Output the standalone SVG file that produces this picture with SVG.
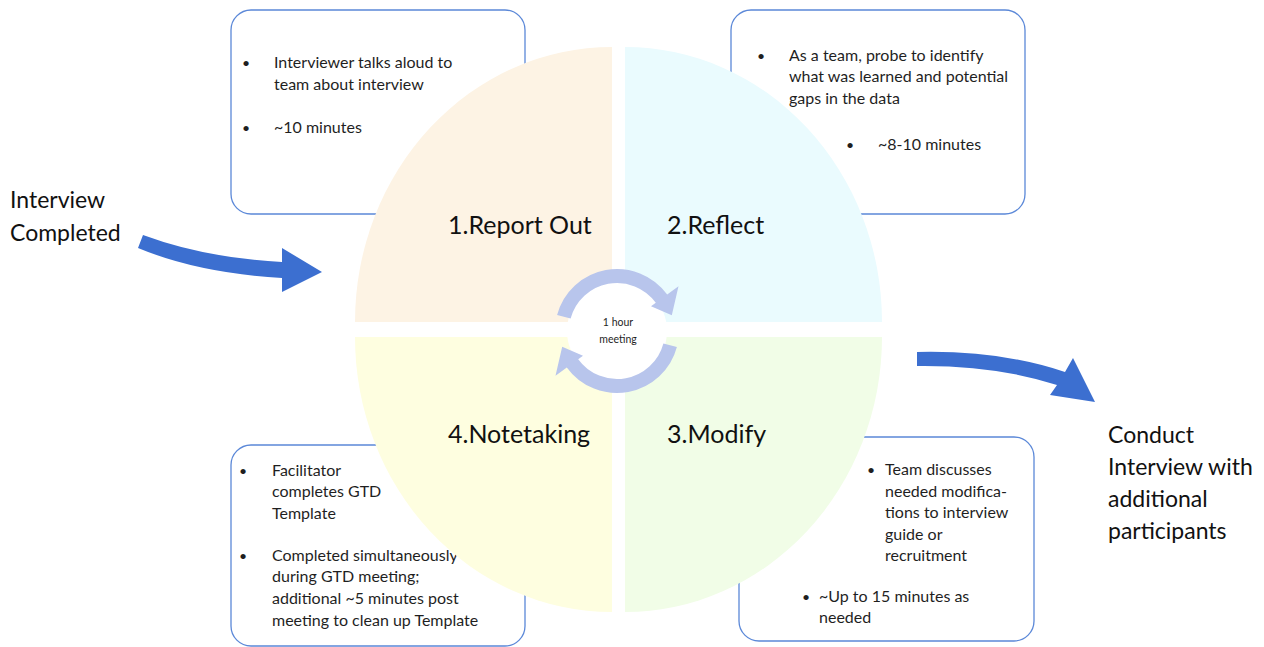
<svg xmlns="http://www.w3.org/2000/svg" width="1264" height="647" viewBox="0 0 1264 647">
  <style>
    .box { fill: #ffffff; stroke: #5b88d8; stroke-width: 1.3; }
    .txt { font-family: Lato, "Liberation Sans", sans-serif; fill: #1f1f1f; }
    .note { font-size: 16px; }
    .bullet { font-size: 14px; }
    .label { font-size: 25px; fill: #111111; }
    .side { font-size: 23px; fill: #111111; }
    .big-arrow { fill: #3c6fd0; }
    .ring-arrow { fill: #b8c5ec; }
  </style>
  <defs>
    <path id="ringArrow" d="M557.1,315 A62,62 0 0 1 667.2,294.6 L678.5,286.3 L671.8,315.3 L651,306.3 L655.8,302.8 A48,48 0 0 0 570.6,318.6 Z"/>
  </defs>

  <rect width="1264" height="647" fill="#ffffff"/>

  <!-- note boxes (drawn under the cycle) -->
  <g id="note-report-out">
    <rect class="box" x="231" y="10" width="294" height="204" rx="20"/>
    <g class="txt note">
      <text class="bullet" x="242" y="68">•</text>
      <text x="274" y="68">Interviewer talks aloud to</text>
      <text x="274" y="90">team about interview</text>
      <text class="bullet" x="242" y="133">•</text>
      <text x="274" y="133">~10 minutes</text>
    </g>
  </g>
  <g id="note-reflect">
    <rect class="box" x="731" y="10" width="294" height="204" rx="20"/>
    <g class="txt note">
      <text class="bullet" x="757" y="61">•</text>
      <text x="789" y="61">As a team, probe to identify</text>
      <text x="789" y="82">what was learned and potential</text>
      <text x="789" y="104">gaps in the data</text>
      <text class="bullet" x="846" y="150">•</text>
      <text x="878" y="150">~8-10 minutes</text>
    </g>
  </g>
  <g id="note-notetaking">
    <rect class="box" x="231" y="445" width="294" height="201" rx="20"/>
    <g class="txt note">
      <text class="bullet" x="239" y="476">•</text>
      <text x="272" y="476">Facilitator</text>
      <text x="272" y="497">completes GTD</text>
      <text x="272" y="519">Template</text>
      <text class="bullet" x="239" y="561">•</text>
      <text x="272" y="561">Completed simultaneously</text>
      <text x="272" y="582">during GTD meeting;</text>
      <text x="272" y="604">additional ~5 minutes post</text>
      <text x="272" y="626">meeting to clean up Template</text>
    </g>
  </g>
  <g id="note-modify">
    <rect class="box" x="739" y="437" width="295" height="204" rx="20"/>
    <g class="txt note">
      <text class="bullet" x="867" y="475">•</text>
      <text x="885" y="475">Team discusses</text>
      <text x="885" y="497">needed modifica-</text>
      <text x="885" y="518">tions to interview</text>
      <text x="885" y="540">guide or</text>
      <text x="885" y="561">recruitment</text>
      <text class="bullet" x="802" y="602">•</text>
      <text x="819" y="602">~Up to 15 minutes as</text>
      <text x="819" y="623">needed</text>
    </g>
  </g>

  <!-- four-part cycle -->
  <g id="step-report-out">
    <path d="M612,322 L355,322 A257,275 0 0 1 612,47 Z" fill="#fdf3e4"/>
    <text class="txt label" x="448" y="234">1.Report Out</text>
  </g>
  <g id="step-reflect">
    <path d="M625,322 L625,47 A257,275 0 0 1 882,322 Z" fill="#eafbfe"/>
    <text class="txt label" x="667" y="234">2.Reflect</text>
  </g>
  <g id="step-modify">
    <path d="M625,337 L882,337 A257,275 0 0 1 625,612 Z" fill="#f1fde7"/>
    <text class="txt label" x="667" y="443">3.Modify</text>
  </g>
  <g id="step-notetaking">
    <path d="M612,337 L612,612 A257,275 0 0 1 355,337 Z" fill="#fefee0"/>
    <text class="txt label" x="448" y="443">4.Notetaking</text>
  </g>

  <!-- hub -->
  <g id="hub">
    <circle cx="617" cy="331" r="50" fill="#ffffff"/>
    <use href="#ringArrow" class="ring-arrow"/>
    <use href="#ringArrow" class="ring-arrow" transform="rotate(180 617 331)"/>
    <text class="txt" x="618" y="326" font-size="10.5" text-anchor="middle">1 hour</text>
    <text class="txt" x="618" y="343" font-size="10.5" text-anchor="middle">meeting</text>
  </g>

  <!-- start / next step labels -->
  <g id="start">
    <text class="txt side" x="10" y="208">Interview</text>
    <text class="txt side" x="10" y="241">Completed</text>
  </g>
  <g id="next">
    <text class="txt side" x="1108" y="443" font-size="23.5">Conduct</text>
    <text class="txt side" x="1108" y="475" font-size="23.5">Interview with</text>
    <text class="txt side" x="1108" y="507" font-size="23.5">additional</text>
    <text class="txt side" x="1108" y="539" font-size="23.5">participants</text>
  </g>

  <!-- connectors -->
  <g id="connectors">
    <path class="big-arrow" d="M143,235 Q205,258 282,262 L282,248 L322,272 L282,292 L282,278 Q198,273 138,248 Z"/>
    <path class="big-arrow" d="M917,352 Q1000,350 1065,372 L1073,358 L1095,402 L1050,395 L1057,385 Q995,365 917,366 Z"/>
  </g>
</svg>
